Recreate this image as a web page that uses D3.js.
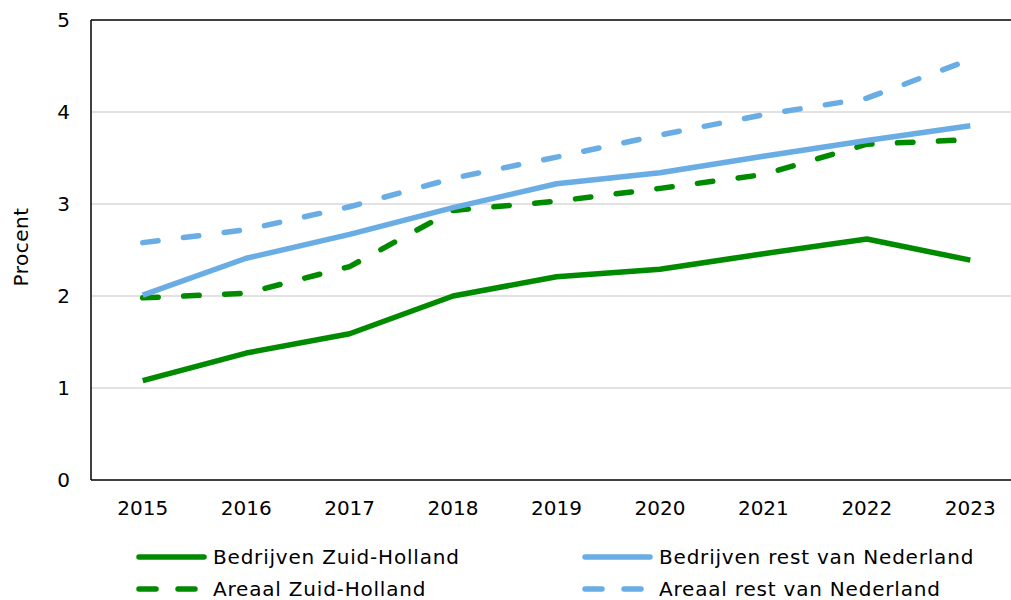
<!DOCTYPE html>
<meta charset="utf-8">
<script src="https://d3js.org/d3.v7.min.js"></script>
<style>
  body { margin: 0; background: #fff; }
  text { font-family: "DejaVu Sans", Verdana, sans-serif; font-size: 20px; fill: #000; }
  .legendText { letter-spacing: 0.8px; }
  .axisTitle { letter-spacing: 0.5px; }
</style>
<div id="chart"></div>
<script>
// data
const years = ["2015", "2016", "2017", "2018", "2019", "2020", "2021", "2022", "2023"];
const bedrijvenZH = [1.08, 1.38, 1.59, 2.0, 2.21, 2.29, 2.46, 2.62, 2.39];
const bedrijvenNL = [2.01, 2.41, 2.67, 2.96, 3.22, 3.34, 3.52, 3.69, 3.85];
const areaalZH    = [1.98, 2.03, 2.32, 2.93, 3.03, 3.17, 3.32, 3.65, 3.70];
const areaalNL    = [2.58, 2.72, 2.97, 3.28, 3.51, 3.75, 3.97, 4.15, 4.57];
const yTicks = [0, 1, 2, 3, 4, 5];

const series = [
  {name: "Bedrijven Zuid-Holland", values: bedrijvenZH, color: "#008a00", dashed: false},
  {name: "Bedrijven rest van Nederland", values: bedrijvenNL, color: "#6aade4", dashed: false},
  {name: "Areaal Zuid-Holland", values: areaalZH, color: "#008a00", dashed: true},
  {name: "Areaal rest van Nederland", values: areaalNL, color: "#6aade4", dashed: true}
];

const W = 1011, H = 600;
const margin = {top: 20, left: 91};
const plotW = 931, plotH = 460;

const svg = d3.select("#chart").append("svg")
  .attr("width", W).attr("height", H);

const g = svg.append("g").attr("transform", `translate(${margin.left},${margin.top})`);

const x = d3.scaleBand().domain(years).range([0, plotW]);
const y = d3.scaleLinear().domain([0, 5]).range([plotH, 0]);

// gridlines
g.selectAll(".grid")
  .data(yTicks.filter(d => d > 0 && d < 5))
  .join("line")
  .attr("x1", 0).attr("x2", plotW)
  .attr("y1", d => y(d)).attr("y2", d => y(d))
  .attr("stroke", "#d9d9d9").attr("stroke-width", 1.5);

// frame: top, left, bottom
g.append("line").attr("x1", 0).attr("x2", plotW).attr("y1", 0).attr("y2", 0)
  .attr("stroke", "#000").attr("stroke-width", 1.5);
g.append("line").attr("x1", 0).attr("x2", 0).attr("y1", 0).attr("y2", plotH)
  .attr("stroke", "#000").attr("stroke-width", 1.5);
g.append("line").attr("x1", 0).attr("x2", plotW).attr("y1", plotH).attr("y2", plotH)
  .attr("stroke", "#000").attr("stroke-width", 1.5);

// y axis labels
g.selectAll(".ylab")
  .data(yTicks)
  .join("text")
  .attr("x", -21)
  .attr("y", d => y(d))
  .attr("text-anchor", "end")
  .attr("dominant-baseline", "central")
  .text(d => d);

// x axis labels
g.selectAll(".xlab")
  .data(years)
  .join("text")
  .attr("x", d => x(d) + x.bandwidth() / 2)
  .attr("y", plotH + 28)
  .attr("text-anchor", "middle")
  .attr("dominant-baseline", "central")
  .text(d => d);

// y axis title
svg.append("text")
  .attr("class", "axisTitle")
  .attr("transform", "translate(21,247) rotate(-90)")
  .attr("text-anchor", "middle")
  .attr("dominant-baseline", "central")
  .text("Procent");

// lines (dashed drawn on top to match reference)
const line = d3.line()
  .x((d, i) => x(years[i]) + x.bandwidth() / 2)
  .y(d => y(d));

const order = [2, 3, 1, 0];
g.selectAll(".series")
  .data(order.map(i => series[i]))
  .join("path")
  .attr("d", d => line(d.values))
  .attr("fill", "none")
  .attr("stroke", d => d.color)
  .attr("stroke-width", 5.5)
  .attr("stroke-linecap", d => d.dashed ? "round" : "butt")
  .attr("stroke-linejoin", "round")
  .attr("stroke-dasharray", d => d.dashed ? "15.5,25.5" : null);

// legend
const legendPos = [
  {x: 139, y: 557}, {x: 585, y: 557},
  {x: 139, y: 589}, {x: 585, y: 589}
];
const leg = svg.selectAll(".legend")
  .data(series)
  .join("g")
  .attr("transform", (d, i) => `translate(${legendPos[i].x},${legendPos[i].y})`);

leg.append("line")
  .attr("x1", 0).attr("x2", 65)
  .attr("y1", 0).attr("y2", 0)
  .attr("stroke", d => d.color)
  .attr("stroke-width", 5.5)
  .attr("stroke-linecap", "round")
  .attr("stroke-dasharray", d => d.dashed ? "17,22" : null);

leg.append("text")
  .attr("class", "legendText")
  .attr("x", 74)
  .attr("y", 0)
  .attr("dominant-baseline", "central")
  .text(d => d.name);
</script>
